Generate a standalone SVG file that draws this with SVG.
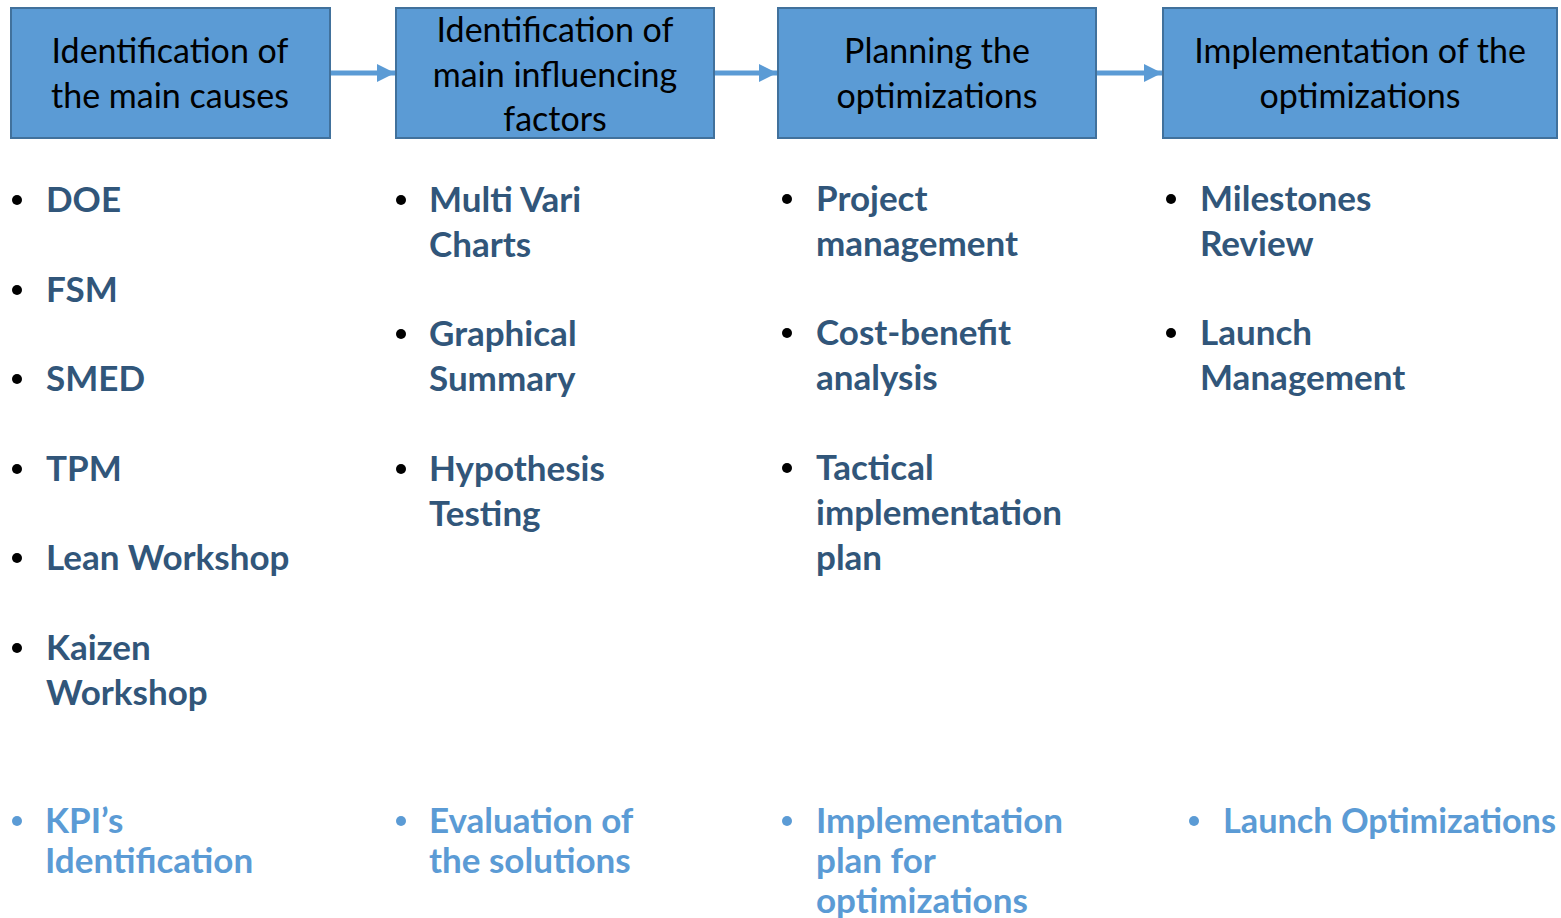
<svg xmlns="http://www.w3.org/2000/svg" width="1561" height="918" viewBox="0 0 1561 918">
<style>
.box{fill:#5b9bd5;stroke:#41719c;stroke-width:2}
.bt{font-family:Lato,"Open Sans",sans-serif;font-size:34px;fill:#000;text-anchor:middle}
.it{font-family:Lato,"Open Sans",sans-serif;font-size:35px;font-weight:bold;fill:#31567a}
.lt{font-family:Lato,"Open Sans",sans-serif;font-size:35px;font-weight:bold;fill:#5b9bd5}
.dot{fill:#000}
.ldot{fill:#5b9bd5}
.con{stroke:#5b9bd5;stroke-width:5;fill:none}
</style>
<defs>
<marker id="ah" viewBox="0 0 18 18" refX="18" refY="9" markerWidth="18" markerHeight="18" orient="auto" markerUnits="userSpaceOnUse">
<path d="M0,0 L18,9 L0,18 Z" fill="#5b9bd5"/>
</marker>
</defs>
<rect width="1561" height="918" fill="#fff"/>
<g id="connectors">
<line class="con" x1="331" y1="73" x2="395" y2="73" marker-end="url(#ah)"/>
<line class="con" x1="715" y1="73" x2="777" y2="73" marker-end="url(#ah)"/>
<line class="con" x1="1097" y1="73" x2="1162" y2="73" marker-end="url(#ah)"/>
</g>
<g id="node1">
<rect class="box" x="11" y="8" width="319" height="130"/>
<text class="bt" x="170" y="63">Identification of</text>
<text class="bt" x="170" y="108">the main causes</text>
</g>
<g id="node2">
<rect class="box" x="396" y="8" width="318" height="130"/>
<text class="bt" x="555" y="42">Identification of</text>
<text class="bt" x="555" y="87">main influencing</text>
<text class="bt" x="555" y="131">factors</text>
</g>
<g id="node3">
<rect class="box" x="778" y="8" width="318" height="130"/>
<text class="bt" x="937" y="63">Planning the</text>
<text class="bt" x="937" y="108">optimizations</text>
</g>
<g id="node4">
<rect class="box" x="1163" y="8" width="394" height="130"/>
<text class="bt" x="1360" y="63">Implementation of the</text>
<text class="bt" x="1360" y="108">optimizations</text>
</g>
<g id="list1">
<circle class="dot" cx="17" cy="200" r="5"/><text class="it" x="46" y="212">DOE</text>
<circle class="dot" cx="17" cy="290" r="5"/><text class="it" x="46" y="302">FSM</text>
<circle class="dot" cx="17" cy="379" r="5"/><text class="it" x="46" y="391">SMED</text>
<circle class="dot" cx="17" cy="469" r="5"/><text class="it" x="46" y="481">TPM</text>
<circle class="dot" cx="17" cy="558" r="5"/><text class="it" x="46" y="570">Lean Workshop</text>
<circle class="dot" cx="17" cy="648" r="5"/><text class="it" x="46" y="660">Kaizen</text>
<text class="it" x="46" y="705">Workshop</text>
</g>
<g id="list2">
<circle class="dot" cx="401" cy="200" r="5"/><text class="it" x="429" y="212">Multi Vari</text>
<text class="it" x="429" y="257">Charts</text>
<circle class="dot" cx="401" cy="334" r="5"/><text class="it" x="429" y="346">Graphical</text>
<text class="it" x="429" y="391">Summary</text>
<circle class="dot" cx="401" cy="469" r="5"/><text class="it" x="429" y="481">Hypothesis</text>
<text class="it" x="429" y="526">Testing</text>
</g>
<g id="list3">
<circle class="dot" cx="787" cy="199" r="5"/><text class="it" x="816" y="211">Project</text>
<text class="it" x="816" y="256">management</text>
<circle class="dot" cx="787" cy="333" r="5"/><text class="it" x="816" y="345">Cost-benefit</text>
<text class="it" x="816" y="390">analysis</text>
<circle class="dot" cx="787" cy="468" r="5"/><text class="it" x="816" y="480">Tactical</text>
<text class="it" x="816" y="525">implementation</text>
<text class="it" x="816" y="570">plan</text>
</g>
<g id="list4">
<circle class="dot" cx="1171" cy="199" r="5"/><text class="it" x="1200" y="211">Milestones</text>
<text class="it" x="1200" y="256">Review</text>
<circle class="dot" cx="1171" cy="333" r="5"/><text class="it" x="1200" y="345">Launch</text>
<text class="it" x="1200" y="390">Management</text>
</g>
<g id="outcomes">
<circle class="ldot" cx="17" cy="821" r="5"/><text class="lt" x="45" y="833">KPI’s</text>
<text class="lt" x="45" y="873">Identification</text>
<circle class="ldot" cx="401" cy="821" r="5"/><text class="lt" x="429" y="833">Evaluation of</text>
<text class="lt" x="429" y="873">the solutions</text>
<circle class="ldot" cx="787" cy="821" r="5"/><text class="lt" x="816" y="833">Implementation</text>
<text class="lt" x="816" y="873">plan for</text>
<text class="lt" x="816" y="913">optimizations</text>
<circle class="ldot" cx="1194" cy="821" r="5"/><text class="lt" x="1223" y="833" textLength="333" lengthAdjust="spacingAndGlyphs">Launch Optimizations</text>
</g>
</svg>
